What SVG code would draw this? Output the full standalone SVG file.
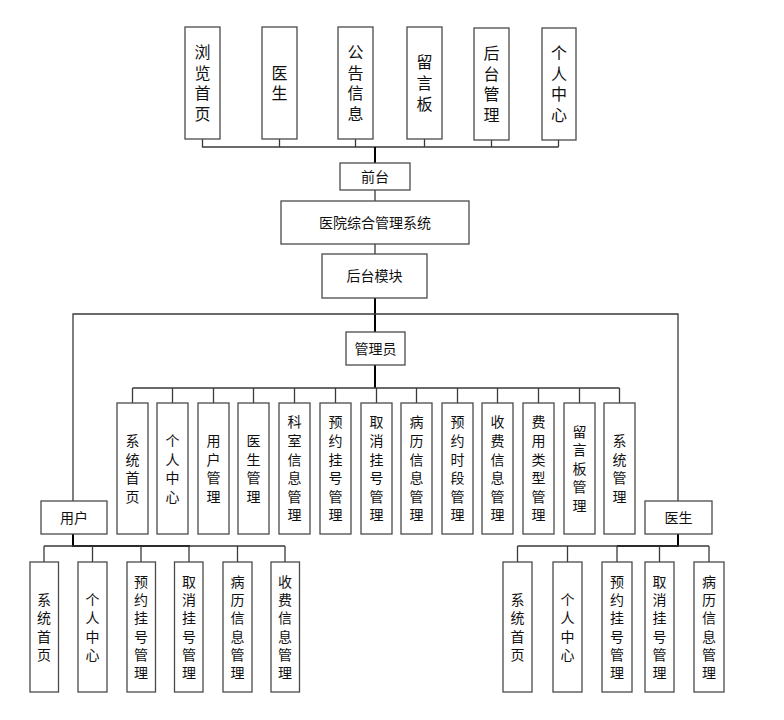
<svg xmlns="http://www.w3.org/2000/svg" width="784" height="720" viewBox="0 0 784 720">
<style>
rect.b{fill:#fff;stroke:#4a4a4a;stroke-width:1.3}
text{font-family:"Noto Sans CJK SC","Liberation Sans",sans-serif;fill:#111;text-anchor:middle}
.t14{font-size:14px}
.v16{font-size:16px;writing-mode:vertical-rl;letter-spacing:4.6px}
.v14{font-size:14px;writing-mode:vertical-rl;letter-spacing:4.6px}
.w14{font-size:14px;writing-mode:vertical-rl;letter-spacing:4.3px}
.c{fill:none;stroke:#3a3a3a;stroke-width:1.3}
.k{fill:none;stroke:#000;stroke-width:2}
</style>
<rect width="784" height="720" fill="#fff"/>
<g id="connectors">
<path class="c" d="M202.5 139V147H558.5M279.5 139V147M355.5 139V147M424.5 139V147M491.5 140V147M558.5 140V147"/>
<path class="k" d="M375 147V163"/>
<path class="c" d="M375 190V201M375 244V254"/>
<path class="k" d="M375 298V332"/>
<path class="c" d="M73 501V314H678V501"/>
<path class="k" d="M375 365V388"/>
<path class="c" d="M132.5 388H619.5M132.5 388V403M172.5 388V403M213.5 388V403M253.5 388V403M294.5 388V403M335.5 388V403M376.5 388V403M416.5 388V403M457.5 388V403M497.5 388V403M538.5 388V403M579.5 388V403M619.5 388V403"/>
<path class="k" d="M73 534V546H190"/>
<path class="c" d="M44 546H285M44 546V562M92.5 546V562M141 546V562M189 546V562M237.5 546V562M285 546V562"/>
<path class="k" d="M678 534V546H617"/>
<path class="c" d="M517.5 546H709M517.5 546V562M567.5 546V562M617 546V562M659.5 546V562M709 546V562"/>
</g>
<g id="n-llsy"><rect class="b" x="185" y="27" width="35" height="112"/><text class="v16" x="202.5" y="85.3">浏览首页</text></g>
<g id="n-ys"><rect class="b" x="262" y="27" width="35" height="112"/><text class="v16" x="279.5" y="85.3">医生</text></g>
<g id="n-ggxx"><rect class="b" x="338" y="27" width="35" height="112"/><text class="v16" x="355.5" y="85.3">公告信息</text></g>
<g id="n-lyb"><rect class="b" x="407" y="27" width="35" height="112"/><text class="v16" x="424.5" y="85.3">留言板</text></g>
<g id="n-htgl"><rect class="b" x="474" y="28" width="35" height="112"/><text class="v16" x="491.5" y="86.3">后台管理</text></g>
<g id="n-grzx"><rect class="b" x="542" y="28" width="34" height="112"/><text class="v16" x="559" y="86.3">个人中心</text></g>
<g id="n-qt"><rect class="b" x="340" y="163" width="70" height="27"/><text class="t14" x="375" y="181.5">前台</text></g>
<g id="n-sys"><rect class="b" x="281" y="201" width="188" height="43"/><text class="t14" x="375" y="227.5">医院综合管理系统</text></g>
<g id="n-htmk"><rect class="b" x="322" y="254" width="105" height="44"/><text class="t14" x="374.5" y="281">后台模块</text></g>
<g id="n-gly"><rect class="b" x="346" y="332" width="59" height="33"/><text class="t14" x="375.5" y="353.5">管理员</text></g>
<g id="n-yh"><rect class="b" x="41" y="501" width="66" height="33"/><text class="t14" x="74" y="522.5">用户</text></g>
<g id="n-ys2"><rect class="b" x="645" y="501" width="67" height="33"/><text class="t14" x="678.5" y="522.5">医生</text></g>
<g id="a1"><rect class="b" x="117" y="403" width="31" height="131"/><text class="v14" x="132.5" y="470.8">系统首页</text></g>
<g id="a2"><rect class="b" x="157" y="403" width="31" height="131"/><text class="v14" x="172.5" y="470.8">个人中心</text></g>
<g id="a3"><rect class="b" x="198" y="403" width="31" height="131"/><text class="v14" x="213.5" y="470.8">用户管理</text></g>
<g id="a4"><rect class="b" x="238" y="403" width="31" height="131"/><text class="v14" x="253.5" y="470.8">医生管理</text></g>
<g id="a5"><rect class="b" x="279" y="403" width="31" height="131"/><text class="v14" x="294.5" y="470.8">科室信息管理</text></g>
<g id="a6"><rect class="b" x="320" y="403" width="31" height="131"/><text class="v14" x="335.5" y="470.8">预约挂号管理</text></g>
<g id="a7"><rect class="b" x="361" y="403" width="31" height="131"/><text class="v14" x="376.5" y="470.8">取消挂号管理</text></g>
<g id="a8"><rect class="b" x="401" y="403" width="31" height="131"/><text class="v14" x="416.5" y="470.8">病历信息管理</text></g>
<g id="a9"><rect class="b" x="442" y="403" width="31" height="131"/><text class="v14" x="457.5" y="470.8">预约时段管理</text></g>
<g id="a10"><rect class="b" x="482" y="403" width="31" height="131"/><text class="v14" x="497.5" y="470.8">收费信息管理</text></g>
<g id="a11"><rect class="b" x="523" y="403" width="31" height="131"/><text class="v14" x="538.5" y="470.8">费用类型管理</text></g>
<g id="a12"><rect class="b" x="564" y="403" width="31" height="131"/><text class="v14" x="579.5" y="470.8">留言板管理</text></g>
<g id="a13"><rect class="b" x="604" y="403" width="31" height="131"/><text class="v14" x="619.5" y="470.8">系统管理</text></g>
<g id="u1"><rect class="b" x="30" y="562" width="28.5" height="130"/><text class="w14" x="44" y="629.2">系统首页</text></g>
<g id="u2"><rect class="b" x="78" y="562" width="29" height="130"/><text class="w14" x="92.5" y="629.2">个人中心</text></g>
<g id="u3"><rect class="b" x="127" y="562" width="28.5" height="130"/><text class="w14" x="141" y="629.2">预约挂号管理</text></g>
<g id="u4"><rect class="b" x="174.5" y="562" width="28.5" height="130"/><text class="w14" x="189" y="629.2">取消挂号管理</text></g>
<g id="u5"><rect class="b" x="223" y="562" width="29" height="130"/><text class="w14" x="237.5" y="629.2">病历信息管理</text></g>
<g id="u6"><rect class="b" x="271" y="562" width="28.5" height="130"/><text class="w14" x="285" y="629.2">收费信息管理</text></g>
<g id="d1"><rect class="b" x="503" y="562" width="29" height="130"/><text class="w14" x="517.5" y="629.2">系统首页</text></g>
<g id="d2"><rect class="b" x="553" y="562" width="29" height="130"/><text class="w14" x="567.5" y="629.2">个人中心</text></g>
<g id="d3"><rect class="b" x="602" y="562" width="30" height="130"/><text class="w14" x="617" y="629.2">预约挂号管理</text></g>
<g id="d4"><rect class="b" x="645" y="562" width="29" height="130"/><text class="w14" x="659.5" y="629.2">取消挂号管理</text></g>
<g id="d5"><rect class="b" x="694" y="562" width="30" height="130"/><text class="w14" x="709" y="629.2">病历信息管理</text></g>
</svg>
